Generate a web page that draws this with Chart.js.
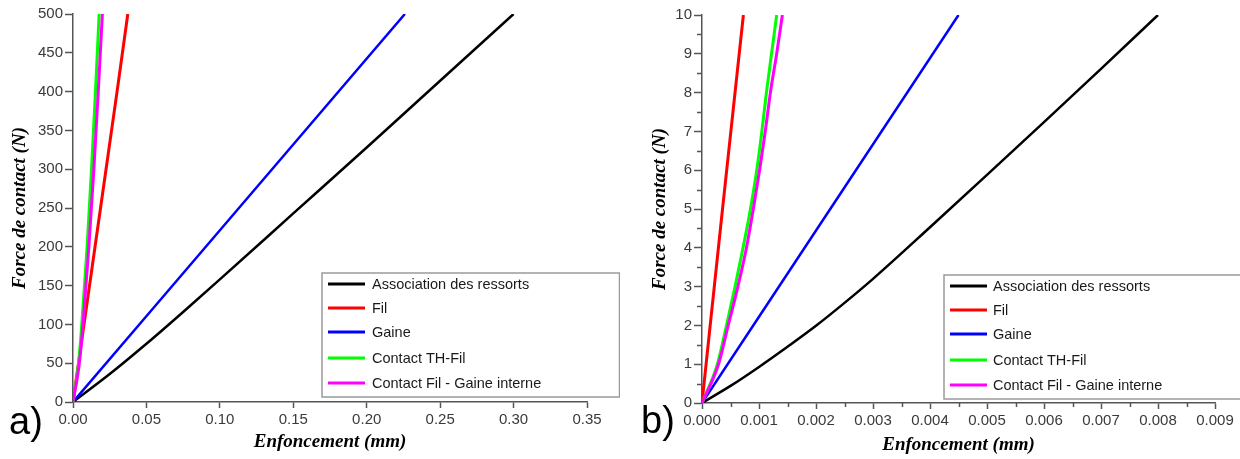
<!DOCTYPE html>
<html><head><meta charset="utf-8">
<script src="https://cdn.jsdelivr.net/npm/chart.js@4/dist/chart.umd.min.js"></script>
<style>
html,body{margin:0;padding:0;background:#fff;overflow:hidden}
#wrap{position:relative;width:1240px;height:459px;background:#fff}
.panel{position:absolute;top:0;width:620px;height:459px}
canvas{display:block}
</style></head><body>
<div id="wrap">
<div class="panel" style="left:0"><canvas id="ca" width="620" height="459"></canvas></div>
<div class="panel" style="left:620px"><canvas id="cb" width="620" height="459"></canvas></div>
</div>
<script>
// ---------- shared texts ----------
const seriesNames = ['Association des ressorts', 'Fil', 'Gaine', 'Contact TH-Fil', 'Contact Fil - Gaine interne'];
const seriesColors = ['#000000', '#ff0000', '#0000ff', '#00ff00', '#ff00ff'];
const yTitle = 'Force de contact (N)';
const xTitle = 'Enfoncement (mm)';

// ---------- panel a) : displacement (mm) / force (N) ----------
const aBlackX   = [0, 0.025, 0.05, 0.075, 0.10, 0.15, 0.20, 0.25, 0.30];
const aBlackY   = [0, 36, 75, 116, 158, 243, 328, 414, 500];
const aRedX     = [0, 0.0075, 0.0150, 0.0225, 0.0300, 0.0373];
const aRedY     = [0, 100, 200, 300, 400, 500];
const aBlueX    = [0, 0.113, 0.226];
const aBlueY    = [0, 250, 500];
const aGreenX   = [0, 0.0038, 0.0060, 0.0096, 0.0126, 0.0153, 0.0178];
const aGreenY   = [0, 50, 100, 200, 300, 400, 500];
const aMagentaX = [0, 0.0043, 0.0068, 0.0108, 0.0142, 0.0172, 0.0200];
const aMagentaY = [0, 50, 100, 200, 300, 400, 500];
const aXTicks = [0, 0.05, 0.10, 0.15, 0.20, 0.25, 0.30, 0.35];
const aYTicks = [0, 50, 100, 150, 200, 250, 300, 350, 400, 450, 500];

// ---------- panel b) ----------
const bBlackX   = [0, 0.0005, 0.001, 0.0015, 0.002, 0.0025, 0.003, 0.004, 0.005, 0.006, 0.007, 0.0080];
const bBlackY   = [0, 0.44, 0.93, 1.45, 1.99, 2.58, 3.2, 4.53, 5.88, 7.24, 8.61, 10];
const bRedX     = [0, 0.00036, 0.000726];
const bRedY     = [0, 5, 10];
const bBlueX    = [0, 0.00225, 0.0045];
const bBlueY    = [0, 5, 10];
const bGreenX   = [0, 0.00027, 0.00043, 0.00058, 0.00072, 0.00085, 0.00096, 0.00105, 0.00113, 0.00122, 0.00131];
const bGreenY   = [0, 1, 2, 3, 4, 5, 6, 7, 8, 9, 10];
const bMagentaX = [0, 0.00029, 0.00046, 0.00063, 0.00078, 0.00090, 0.00101, 0.00111, 0.00120, 0.00131, 0.00141];
const bMagentaY = [0, 1, 2, 3, 4, 5, 6, 7, 8, 9, 10];
const bXTicks = [0, 0.001, 0.002, 0.003, 0.004, 0.005, 0.006, 0.007, 0.008, 0.009];
const bYTicks = [0, 1, 2, 3, 4, 5, 6, 7, 8, 9, 10];
const bXMinor = [0.0005, 0.0015, 0.0025, 0.0035, 0.0045, 0.0055, 0.0065, 0.0075, 0.0085];
const bYMinor = [0.5, 1.5, 2.5, 3.5, 4.5, 5.5, 6.5, 7.5, 8.5, 9.5];

function pts(xs, ys){ return xs.map((x,i)=>({x:x, y:ys[i]})); }
function makeSets(list){
  const widths = [2.5, 3, 2.5, 3, 3];
  const orders = [5, 4, 3, 2, 1];
  return list.map((p,i)=>({
    label: seriesNames[i], data: pts(p[0], p[1]),
    borderColor: seriesColors[i], backgroundColor: seriesColors[i],
    borderWidth: widths[i], pointRadius: 0, cubicInterpolationMode: 'monotone',
    fill: false, order: orders[i]
  }));
}

const boxLegend = {
  id: 'boxLegend',
  afterDraw(chart, args, o){
    const ctx = chart.ctx;
    ctx.save();
    // minor ticks
    if (o.xMinor){
      const xs = chart.scales.x, ys = chart.scales.y;
      ctx.strokeStyle = '#555'; ctx.lineWidth = 1.5;
      ctx.beginPath();
      o.xMinor.forEach(v=>{ const px = Math.round(xs.getPixelForValue(v))+0.5; ctx.moveTo(px, xs.top); ctx.lineTo(px, xs.top+4); });
      o.yMinor.forEach(v=>{ const py = Math.round(ys.getPixelForValue(v))+0.5; ctx.moveTo(ys.right, py); ctx.lineTo(ys.right-5, py); });
      ctx.stroke();
    }
    // legend box
    ctx.fillStyle = '#fff';
    ctx.fillRect(o.x1, o.y1, o.x2-o.x1, o.y2-o.y1);
    ctx.strokeStyle = '#9a9a9a'; ctx.lineWidth = 1.5;
    ctx.strokeRect(o.x1, o.y1, o.x2-o.x1, o.y2-o.y1);
    ctx.font = '14.5px "Liberation Sans", Arial, sans-serif';
    ctx.textBaseline = 'middle';
    chart.data.datasets.forEach((ds,i)=>{
      const y = o.rows[i];
      ctx.strokeStyle = ds.borderColor; ctx.lineWidth = 3;
      ctx.beginPath(); ctx.moveTo(o.lx1, y); ctx.lineTo(o.lx2, y); ctx.stroke();
      ctx.fillStyle = '#1a1a1a';
      ctx.fillText(ds.label, o.tx, y+1);
    });
    // panel letter
    ctx.font = '38px "Liberation Sans", Arial, sans-serif';
    ctx.fillStyle = '#000'; ctx.textBaseline = 'alphabetic';
    ctx.fillText(o.letter, o.letterX, o.letterY);
    ctx.restore();
  }
};

function makeChart(id, sets, cfg){
  return new Chart(document.getElementById(id), {
    type: 'line',
    data: { datasets: sets },
    plugins: [boxLegend],
    options: {
      responsive: false, animation: false, devicePixelRatio: 1,
      layout: { padding: { top: cfg.top, right: cfg.right, left: 0, bottom: 0 } },
      plugins: { legend: { display: false }, tooltip: { enabled: false }, boxLegend: cfg.legend },
      scales: {
        x: {
          type: 'linear', min: cfg.xMin, max: cfg.xMax,
          afterBuildTicks: s => { s.ticks = cfg.xTicks.map(v=>({value:v})); },
          afterFit: s => { s.height = cfg.xH; },
          grid: { drawOnChartArea: false, drawTicks: true, tickLength: 6, tickColor: '#555', tickWidth: 1.5 },
          border: { display: true, color: '#555', width: 1.5 },
          ticks: { padding: 3, color: '#3a3a3a', maxRotation: 0, autoSkip: false,
                   font: { family: '"Liberation Sans", Arial, sans-serif', size: 15 },
                   callback: v => Number(v).toFixed(cfg.xDec) },
          title: { display: true, text: xTitle, color: '#000', padding: { top: 0, bottom: cfg.xTitlePad },
                   font: { family: '"Liberation Serif", "Times New Roman", serif', size: 19, style: 'italic', weight: 'bold' } }
        },
        y: {
          type: 'linear', min: cfg.yMin, max: cfg.yMax,
          afterBuildTicks: s => { s.ticks = cfg.yTicks.map(v=>({value:v})); },
          afterFit: s => { s.width = cfg.yW; },
          grid: { drawOnChartArea: false, drawTicks: true, tickLength: 8, tickColor: '#555', tickWidth: 1.5 },
          border: { display: true, color: '#555', width: 1.5 },
          ticks: { padding: 2, color: '#3a3a3a', autoSkip: false,
                   font: { family: '"Liberation Sans", Arial, sans-serif', size: 15 },
                   callback: v => String(v) },
          title: { display: true, text: yTitle, color: '#000', padding: { top: cfg.yTitlePad, bottom: 0 },
                   font: { family: '"Liberation Serif", "Times New Roman", serif', size: 19, style: 'italic', weight: 'bold' } }
        }
      }
    }
  });
}

makeChart('ca', makeSets([[aBlackX,aBlackY],[aRedX,aRedY],[aBlueX,aBlueY],[aGreenX,aGreenY],[aMagentaX,aMagentaY]]), {
  top: 14, right: 33, xH: 57, yW: 73, xMin: 0, xMax: 0.35, yMin: 0, yMax: 500,
  xTicks: aXTicks, yTicks: aYTicks, xDec: 2, xTitlePad: 5.5, yTitlePad: 8.5,
  legend: { x1: 322, y1: 273, x2: 619.5, y2: 397, lx1: 328, lx2: 365, tx: 372,
            rows: [284, 308, 332, 358, 383], letter: 'a)', letterX: 9, letterY: 434 }
});

makeChart('cb', makeSets([[bBlackX,bBlackY],[bRedX,bRedY],[bBlueX,bBlueY],[bGreenX,bGreenY],[bMagentaX,bMagentaY]]), {
  top: 15, right: 25, xH: 56, yW: 82, xMin: 0, xMax: 0.009, yMin: 0, yMax: 10,
  xTicks: bXTicks, yTicks: bYTicks, xDec: 3, xTitlePad: 3, yTitlePad: 28.5,
  legend: { x1: 324, y1: 275, x2: 625, y2: 399, lx1: 330, lx2: 367, tx: 373,
            rows: [286, 310, 334, 360, 385], xMinor: bXMinor, yMinor: bYMinor,
            letter: 'b)', letterX: 21, letterY: 433 }
});
</script>
</body></html>
